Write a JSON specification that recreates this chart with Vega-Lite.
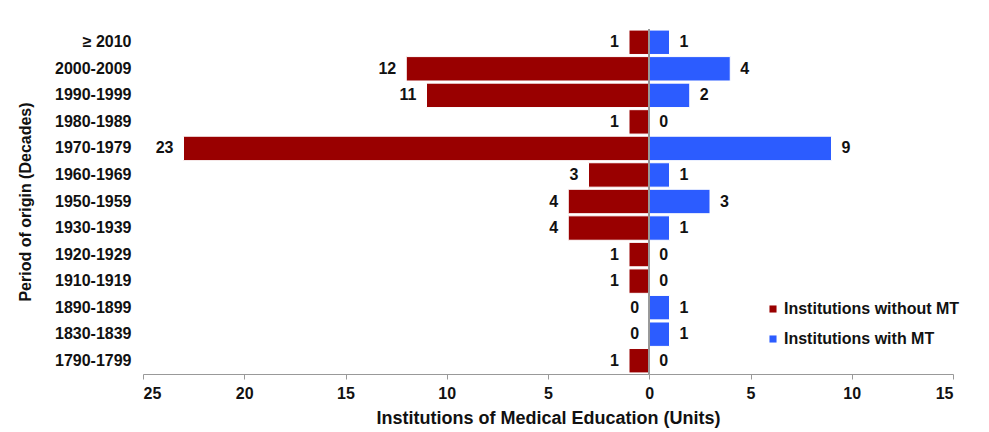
{
  "$schema": "https://vega.github.io/schema/vega-lite/v6.json",
  "autosize": {"type": "none"},
  "width": 810,
  "height": 345,
  "padding": {"left": 143, "top": 29, "right": 36, "bottom": 58},
  "background": "white",
  "config": {
    "view": {"stroke": null},
    "font": "Liberation Sans",
    "axis": {"labelFont": "Liberation Sans", "titleFont": "Liberation Sans"},
    "legend": {"labelFont": "Liberation Sans"},
    "text": {"font": "Liberation Sans"}
  },
  "data": {
    "values": [
      {"decade": "≥ 2010", "group": "Institutions without MT", "count": 1},
      {"decade": "≥ 2010", "group": "Institutions with MT", "count": 1},
      {"decade": "2000-2009", "group": "Institutions without MT", "count": 12},
      {"decade": "2000-2009", "group": "Institutions with MT", "count": 4},
      {"decade": "1990-1999", "group": "Institutions without MT", "count": 11},
      {"decade": "1990-1999", "group": "Institutions with MT", "count": 2},
      {"decade": "1980-1989", "group": "Institutions without MT", "count": 1},
      {"decade": "1980-1989", "group": "Institutions with MT", "count": 0},
      {"decade": "1970-1979", "group": "Institutions without MT", "count": 23},
      {"decade": "1970-1979", "group": "Institutions with MT", "count": 9},
      {"decade": "1960-1969", "group": "Institutions without MT", "count": 3},
      {"decade": "1960-1969", "group": "Institutions with MT", "count": 1},
      {"decade": "1950-1959", "group": "Institutions without MT", "count": 4},
      {"decade": "1950-1959", "group": "Institutions with MT", "count": 3},
      {"decade": "1930-1939", "group": "Institutions without MT", "count": 4},
      {"decade": "1930-1939", "group": "Institutions with MT", "count": 1},
      {"decade": "1920-1929", "group": "Institutions without MT", "count": 1},
      {"decade": "1920-1929", "group": "Institutions with MT", "count": 0},
      {"decade": "1910-1919", "group": "Institutions without MT", "count": 1},
      {"decade": "1910-1919", "group": "Institutions with MT", "count": 0},
      {"decade": "1890-1899", "group": "Institutions without MT", "count": 0},
      {"decade": "1890-1899", "group": "Institutions with MT", "count": 1},
      {"decade": "1830-1839", "group": "Institutions without MT", "count": 0},
      {"decade": "1830-1839", "group": "Institutions with MT", "count": 1},
      {"decade": "1790-1799", "group": "Institutions without MT", "count": 1},
      {"decade": "1790-1799", "group": "Institutions with MT", "count": 0}
    ]
  },
  "transform": [
    {"calculate": "datum.group === 'Institutions without MT' ? -datum.count : datum.count", "as": "signed"}
  ],
  "encoding": {
    "y": {
      "field": "decade",
      "type": "nominal",
      "sort": null,
      "scale": {"paddingInner": 0.08, "paddingOuter": 0.04},
      "axis": {
        "title": "Period of origin (Decades)",
        "titleFontSize": 16,
        "titleFontWeight": "bold",
        "titleColor": "#111",
        "titlePadding": 21,
        "labelFontSize": 16,
        "labelFontWeight": "bold",
        "labelColor": "#111",
        "labelPadding": 12,
        "domain": false,
        "ticks": false
      }
    }
  },
  "layer": [
    {
      "mark": {"type": "bar", "stroke": "white", "strokeWidth": 1},
      "encoding": {
        "x": {
          "field": "signed",
          "type": "quantitative",
          "scale": {"domain": [-25, 15], "nice": false},
          "axis": {
            "values": [-25, -20, -15, -10, -5, 0, 5, 10, 15],
            "labelExpr": "abs(datum.value)",
            "title": "Institutions of Medical Education (Units)",
            "titleFontSize": 18,
            "titleFontWeight": "bold",
            "titleColor": "#111",
            "titlePadding": 8,
            "labelFontSize": 16,
            "labelFontWeight": "bold",
            "labelColor": "#111",
            "labelPadding": 6,
            "grid": false,
            "domainColor": "#999",
            "tickColor": "#999",
            "tickSize": 5
          }
        },
        "color": {
          "field": "group",
          "type": "nominal",
          "scale": {"domain": ["Institutions without MT", "Institutions with MT"], "range": ["#990000", "#2c5cff"]},
          "legend": {
            "title": null,
            "orient": "none",
            "legendX": 622,
            "legendY": 272,
            "symbolType": "square",
            "symbolSize": 50,
            "symbolStrokeWidth": 0,
            "labelFontSize": 16,
            "labelFontWeight": "bold",
            "labelColor": "#111",
            "labelLimit": 0,
            "rowPadding": 14,
            "labelOffset": 3
          }
        }
      }
    },
    {
      "mark": {"type": "rule", "color": "#999", "strokeWidth": 1},
      "encoding": {"x": {"datum": 0, "type": "quantitative"}, "y": {"value": 0}, "y2": {"value": 345}}
    },
    {
      "transform": [{"filter": "datum.group === 'Institutions without MT'"}],
      "mark": {"type": "text", "align": "right", "dx": -10, "fontSize": 16, "fontWeight": "bold", "color": "#111"},
      "encoding": {
        "x": {"field": "signed", "type": "quantitative"},
        "text": {"field": "count", "type": "quantitative"}
      }
    },
    {
      "transform": [{"filter": "datum.group === 'Institutions with MT'"}],
      "mark": {"type": "text", "align": "left", "dx": 10, "fontSize": 16, "fontWeight": "bold", "color": "#111"},
      "encoding": {
        "x": {"field": "signed", "type": "quantitative"},
        "text": {"field": "count", "type": "quantitative"}
      }
    }
  ]
}
